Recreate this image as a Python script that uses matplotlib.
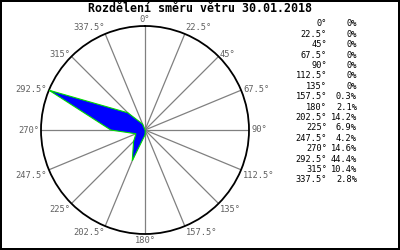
import numpy as np
import matplotlib
matplotlib.use("Agg")
import matplotlib.pyplot as plt

title = "Rozdělení směru větru 30.01.2018"
directions = [0, 22.5, 45, 67.5, 90, 112.5, 135, 157.5,
              180, 202.5, 225, 247.5, 270, 292.5, 315, 337.5]
percents = [0, 0, 0, 0, 0, 0, 0, 0.3,
            2.1, 14.2, 6.9, 4.2, 14.6, 44.4, 10.4, 2.8]

W, H = 400, 250
plt.rcParams['font.family'] = ['DejaVu Sans Mono']

fig = plt.figure(figsize=(W / 100, H / 100), dpi=100,
                 edgecolor='black', linewidth=1.5)

# polar axes placed in pixel terms: centre (145,130), radius 104
cx, cy, rad = 145, 130, 104
ax = fig.add_axes([(cx - rad) / W, (H - cy - rad) / H, 2 * rad / W, 2 * rad / H],
                  projection='polar')
ax.set_theta_zero_location('N')
ax.set_theta_direction(-1)
rmax = max(percents)
ax.set_ylim(0, rmax)
ax.set_yticks([])
theta = np.deg2rad(directions)
ax.set_xticks(theta)
ax.set_xticklabels([])
ax.tick_params(axis='x', length=0)
ax.xaxis.grid(True, color='#808080', lw=0.9)
ax.spines['polar'].set_color('black')
ax.spines['polar'].set_linewidth(1.3)

th = np.append(theta, theta[0])
rr = np.append(percents, percents[0])
ax.fill(th, rr, facecolor='#0000ff', edgecolor='#00dd00', lw=0.8, zorder=3)

for d, t in zip(directions, theta):
    s, c = np.sin(t), np.cos(t)
    ha = 'center' if abs(s) < 0.1 else ('left' if s > 0 else 'right')
    if c < -0.1:
        va = 'top'
    elif c > 0.8:
        va = 'bottom'
    else:
        va = 'center'
    ax.annotate(f"{d:g}°", xy=(t, rmax), xytext=(1.5 * s, 1.5 * c),
                textcoords='offset points', ha=ha, va=va,
                fontsize=6.3, color='#606060', annotation_clip=False)

fig.text(0.5, 1 - 8.5 / H, title, ha='center', va='center',
         fontsize=8.4, fontweight='bold')

# table on the right
for i, (d, p) in enumerate(zip(directions, percents)):
    y = 1 - (24 + i * 10.4) / H
    fig.text(327 / W, y, f"{d:g}°", ha='right', va='center', fontsize=6.2)
    fig.text(357 / W, y, f"{p:g}%", ha='right', va='center', fontsize=6.2)

fig.savefig("out.png", dpi=100, edgecolor=fig.get_edgecolor())
